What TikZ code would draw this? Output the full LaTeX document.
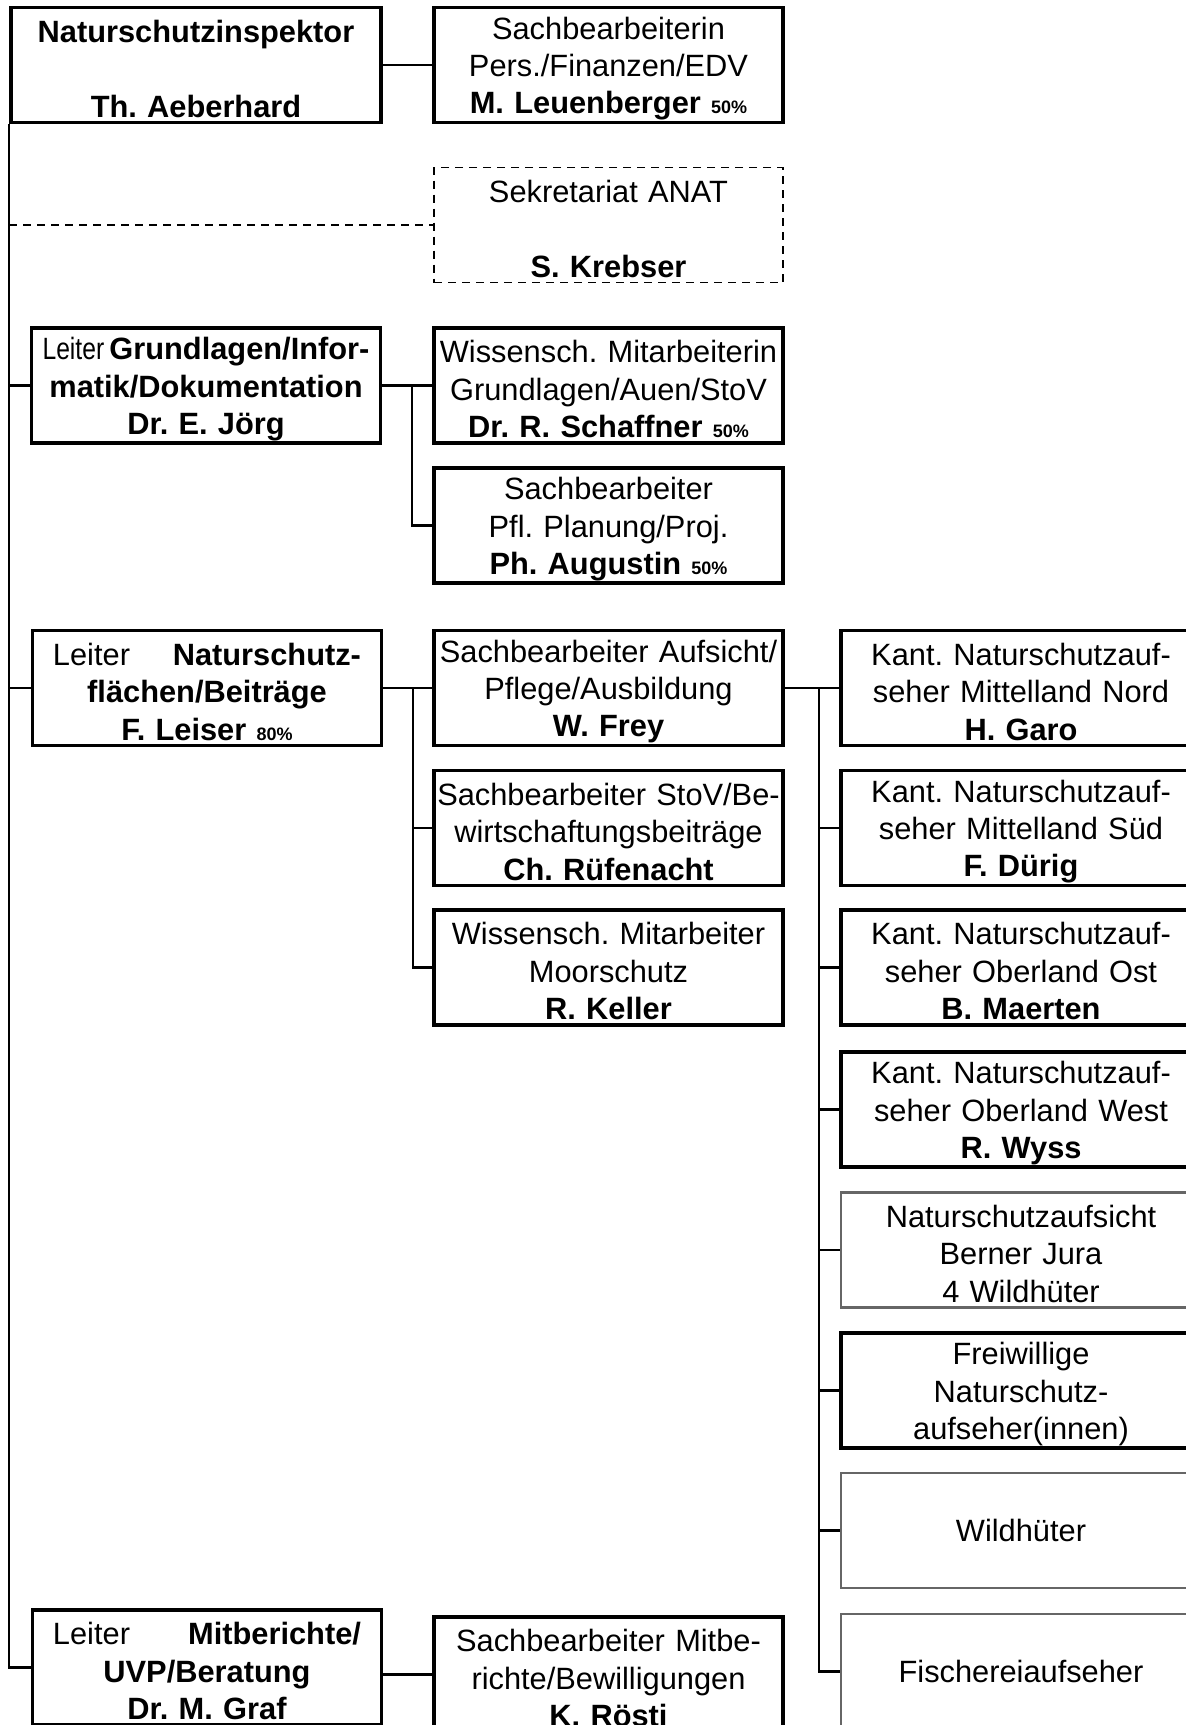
\documentclass[tikz,border=0pt]{standalone}
\usepackage{fontspec}
\setmainfont{Liberation Sans}
\usepackage{graphicx}
\frenchspacing
\newcommand{\pct}[1]{{\fontsize{9}{9}\selectfont\textbf{#1}}}
\tikzset{
  unitbox/.style={draw, line width=1.7pt, minimum width=174.5pt, minimum height=57.5pt, inner sep=0pt, align=center, text width=172pt, font=\fontsize{15.4}{18.7}\selectfont, execute at end node={\par\vspace*{-3.6pt}}},
  sekbox/.style={unitbox, line width=0.9pt, dash pattern=on 4pt off 3pt},
  watchbox/.style={unitbox, draw=black!60, line width=1.2pt},
  wardbox/.style={minimum width=180pt, text width=178pt},
  orgline/.style={line width=1.1pt},
}
\begin{document}
\begin{tikzpicture}[x=0.5pt, y=0.5pt]
			\useasboundingbox[fill=white] (0,0) rectangle (1186,-1725);
			\node[unitbox, minimum width=185pt] (insp) at (196,-65) {\textbf{Naturschutzinspektor}\\\strut\\\textbf{Th. Aeberhard}};
			\node[unitbox] (pers) at (608.5,-65) {Sachbearbeiterin\\Pers./Finanzen/EDV\\\textbf{M. Leuenberger} \pct{50\%}};
			\node[sekbox] (sek) at (608.5,-225) {Sekretariat ANAT\\\strut\\\textbf{S. Krebser}};
			
			\node[unitbox] (grund) at (206,-385.5) {\scalebox{0.8}[1]{Leiter}\,\textbf{Grundlagen/Infor-}\\\textbf{matik/Dokumentation}\\\textbf{Dr. E. Jörg}};
			\node[unitbox] (schaff) at (608.5,-385.5) {Wissensch. Mitarbeiterin\\Grundlagen/Auen/StoV\\\textbf{Dr. R. Schaffner} \pct{50\%}};
			\node[unitbox] (aug) at (608.5,-525.5) {Sachbearbeiter\\Pfl. Planung/Proj.\\\textbf{Ph. Augustin} \pct{50\%}};
			
			\node[unitbox] (leiser) at (207,-688) {\makebox[154pt]{Leiter\hfill\textbf{Naturschutz-}}\\\textbf{flächen/Beiträge}\\\textbf{F. Leiser} \pct{80\%}};
			\node[unitbox] (frey) at (608.5,-688) {Sachbearbeiter Aufsicht/\\Pflege/Ausbildung\\\textbf{W. Frey}};
			\node[unitbox] (ruef) at (608.5,-828) {Sachbearbeiter StoV/Be-\\wirtschaftungsbeiträge\\\textbf{Ch. Rüfenacht}};
			\node[unitbox] (keller) at (608.5,-967.5) {Wissensch. Mitarbeiter\\Moorschutz\\\textbf{R. Keller}};
			
			\node[unitbox, wardbox] (garo) at (1021,-688) {Kant. Naturschutzauf-\\seher Mittelland Nord\\\textbf{H. Garo}};
			\node[unitbox, wardbox] (duerig) at (1021,-828) {Kant. Naturschutzauf-\\seher Mittelland Süd\\\textbf{F. Dürig}};
			\node[unitbox, wardbox] (maerten) at (1021,-967.5) {Kant. Naturschutzauf-\\seher Oberland Ost\\\textbf{B. Maerten}};
			\node[unitbox, wardbox] (wyss) at (1021,-1109.5) {Kant. Naturschutzauf-\\seher Oberland West\\\textbf{R. Wyss}};
			\node[watchbox, wardbox] (jura) at (1021,-1250) {Naturschutzaufsicht\\Berner Jura\\4 Wildhüter};
			\node[unitbox, wardbox] (frei) at (1021,-1390.5) {Freiwillige\\Naturschutz-\\aufseher(innen)};
			\node[watchbox, wardbox] (wild) at (1021,-1530.5) {Wildhüter};
			\node[watchbox, wardbox] (fisch) at (1021,-1671.5) {Fischereiaufseher};
			
			\node[unitbox] (graf) at (207,-1667.5) {\makebox[154pt]{Leiter\hfill\textbf{Mitberichte/}}\\\textbf{UVP/Beratung}\\\textbf{Dr. M. Graf}};
			\node[unitbox] (roesti) at (608.5,-1674.5) {Sachbearbeiter Mitbe-\\richte/Bewilligungen\\\textbf{K. Rösti}};
			
			\draw[orgline] (insp.east) -- (pers.west);
			\draw[orgline] (insp.south west) |- (graf.west);
			\draw[orgline, dash pattern=on 4pt off 3pt] (insp.south west |- sek.west) -- (sek.west);
			\draw[orgline] (insp.south west |- grund.west) -- (grund.west);
			\draw[orgline] (insp.south west |- leiser.west) -- (leiser.west);
			
			\coordinate (gbus) at ([xshift=15pt]grund.east);
			\draw[orgline] (grund.east) -- (schaff.west);
			\draw[orgline] (gbus) |- (aug.west);
			
			\coordinate (lbus) at ([xshift=15pt]leiser.east);
			\draw[orgline] (leiser.east) -- (frey.west);
			\draw[orgline] (lbus) |- (ruef.west);
			\draw[orgline] (lbus) |- (keller.west);
			
			\coordinate (rbus) at ([xshift=17pt]frey.east);
			\draw[orgline] (frey.east) -- (garo.west);
			\foreach \n in {duerig,maerten,wyss,jura,frei,wild,fisch}
				\draw[orgline] (rbus) |- (\n.west);
			
			\draw[orgline] (graf.east |- roesti.west) -- (roesti.west);
		
\end{tikzpicture}
\end{document}
